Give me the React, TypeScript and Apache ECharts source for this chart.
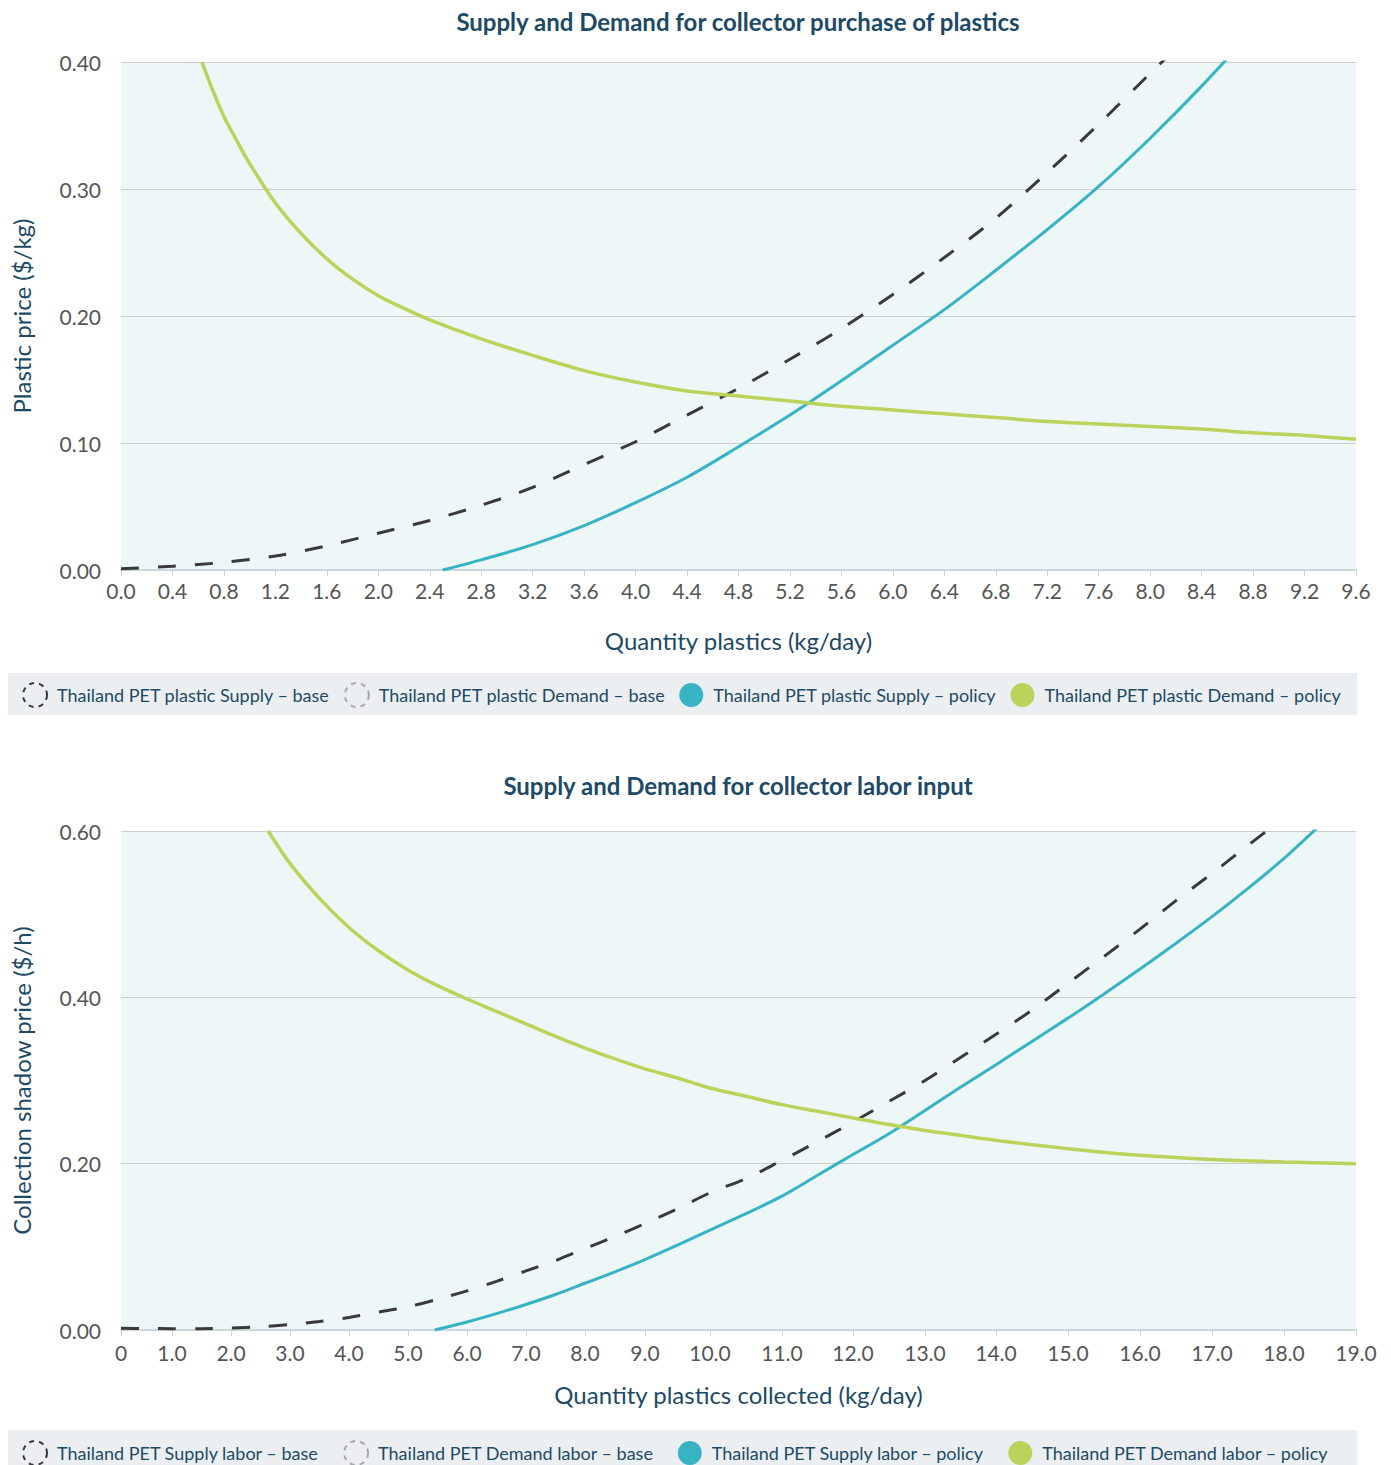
import React, { useEffect, useRef } from "react";
import * as echarts from "echarts";

// ---------- Chart 1: collector purchase of plastics ----------
const PLASTIC_SUPPLY_BASE: number[][] = [
  [0, 0.001], [0.4, 0.003], [0.8, 0.006], [1.2, 0.011], [1.6, 0.019], [2.0, 0.029],
  [2.4, 0.039], [2.8, 0.051], [3.2, 0.065], [3.6, 0.083], [4.0, 0.101], [4.4, 0.122],
  [4.8, 0.143], [5.2, 0.166], [5.6, 0.19], [6.0, 0.217], [6.4, 0.246], [6.8, 0.277],
  [7.2, 0.313], [7.6, 0.351], [8.0, 0.391], [8.4, 0.43],
];
const PLASTIC_DEMAND_BASE: number[][] = [];
const PLASTIC_SUPPLY_POLICY: number[][] = [
  [2.5, 0], [2.8, 0.008], [3.2, 0.02], [3.6, 0.035], [4.0, 0.053], [4.4, 0.073],
  [4.8, 0.097], [5.2, 0.122], [5.6, 0.149], [6.0, 0.177], [6.4, 0.205], [6.8, 0.236],
  [7.2, 0.268], [7.6, 0.302], [8.0, 0.34], [8.4, 0.381], [8.8, 0.425],
];
const PLASTIC_DEMAND_POLICY: number[][] = [
  [0.63, 0.4], [0.7, 0.381], [0.8, 0.357], [0.9, 0.338], [1.0, 0.32], [1.2, 0.289],
  [1.4, 0.265], [1.6, 0.245], [1.8, 0.229], [2.0, 0.216], [2.2, 0.206], [2.4, 0.197],
  [2.8, 0.182], [3.2, 0.169], [3.6, 0.157], [4.0, 0.148], [4.4, 0.141], [4.8, 0.137],
  [5.2, 0.133], [5.6, 0.129], [6.0, 0.126], [6.4, 0.123], [6.8, 0.12], [7.2, 0.117],
  [7.6, 0.115], [8.0, 0.113], [8.4, 0.111], [8.8, 0.108], [9.2, 0.106], [9.6, 0.103],
];

// ---------- Chart 2: collector labor input ----------
const LABOR_SUPPLY_BASE: number[][] = [
  [0, 0.002], [0.5, 0.0018], [1.0, 0.0016], [1.5, 0.0016], [2.0, 0.0024], [2.5, 0.0039],
  [3.0, 0.0065], [3.5, 0.0103], [4.0, 0.015], [4.5, 0.0215], [5.0, 0.028], [5.5, 0.037],
  [6.0, 0.047], [6.5, 0.0585], [7.0, 0.071], [7.5, 0.0835], [8.0, 0.098], [8.5, 0.1124],
  [9.0, 0.128], [9.5, 0.1457], [10.0, 0.165], [10.5, 0.182], [11.0, 0.204], [11.5, 0.2265],
  [12.0, 0.25], [12.5, 0.2748], [13.0, 0.3], [13.5, 0.3277], [14.0, 0.3556], [14.5, 0.3846],
  [15.0, 0.417], [15.5, 0.449], [16.0, 0.482], [16.5, 0.5163], [17.0, 0.549], [17.5, 0.5827],
  [18.0, 0.616],
];
const LABOR_DEMAND_BASE: number[][] = [];
const LABOR_SUPPLY_POLICY: number[][] = [
  [5.45, 0], [6.0, 0.0097], [6.5, 0.0197], [7.0, 0.0307], [7.5, 0.0427], [8.0, 0.0562],
  [8.5, 0.07], [9.0, 0.0846], [9.5, 0.102], [10.0, 0.12], [10.5, 0.14], [11.0, 0.161],
  [11.5, 0.186], [12.0, 0.211], [12.5, 0.236], [13.0, 0.264], [13.5, 0.292], [14.0, 0.319],
  [14.5, 0.347], [15.0, 0.375], [15.5, 0.404], [16.0, 0.434], [16.5, 0.465], [17.0, 0.497],
  [17.5, 0.531], [18.0, 0.567], [18.5, 0.607],
];
const LABOR_DEMAND_POLICY: number[][] = [
  [2.63, 0.6], [3.0, 0.561], [3.5, 0.519], [4.0, 0.484], [4.5, 0.456], [5.0, 0.433],
  [5.5, 0.414], [6.0, 0.398], [6.5, 0.383], [7.0, 0.368], [7.5, 0.353], [8.0, 0.339],
  [8.5, 0.326], [9.0, 0.314], [9.5, 0.303], [10.0, 0.291], [10.5, 0.281], [11.0, 0.271],
  [11.5, 0.263], [12.0, 0.255], [12.5, 0.247], [13.0, 0.24], [13.5, 0.234], [14.0, 0.228],
  [15.0, 0.218], [16.0, 0.21], [17.0, 0.205], [18.0, 0.202], [19.0, 0.2],
];

// Tick labels of the (unevenly spaced, category-like) labor x axis
const LABOR_X_TICK_VALUES = [0, 1, 2, 3, 4, 5, 6, 7, 8, 9, 10, 11, 12, 13, 14, 15, 16, 17, 18, 19];
const LABOR_X_TICK_LABELS = [
  "0", "1.0", "2.0", "3.0", "4.0", "5.0", "6.0", "7.0", "8.0", "9.0",
  "10.0", "11.0", "12.0", "13.0", "14.0", "15.0", "16.0", "17.0", "18.0", "19.0",
];

// Axis scale definition: relative position of each labor tick along the axis
const LABOR_X_SCALE = [
  0, 0.0413, 0.0891, 0.1368, 0.1846, 0.2324, 0.2802, 0.3279, 0.3757, 0.4243,
  0.4769, 0.5352, 0.5927, 0.651, 0.7085, 0.7668, 0.8251, 0.8834, 0.9417, 1,
];

function laborX(q: number): number {
  const v = LABOR_X_TICK_VALUES;
  const s = LABOR_X_SCALE;
  let i = 0;
  while (i < v.length - 2 && q > v[i + 1]) i++;
  const t = (q - v[i]) / (v[i + 1] - v[i]);
  return s[i] + t * (s[i + 1] - s[i]);
}

const NAMES1 = [
  "Thailand PET plastic Supply – base",
  "Thailand PET plastic Demand – base",
  "Thailand PET plastic Supply – policy",
  "Thailand PET plastic Demand – policy",
];
const NAMES2 = [
  "Thailand PET Supply labor – base",
  "Thailand PET Demand labor – base",
  "Thailand PET Supply labor – policy",
  "Thailand PET Demand labor – policy",
];

const FONT = "Lato, 'Open Sans', sans-serif";
const DARK = "#3a3a3a";
const GRAYBASE = "#a8a8a8";
const TEAL = "#37b3c4";
const GREEN = "#bbd35a";
const NAVY = "#1d4a66";
const LABEL = "#555555";
const PLOT_BG = "#eef7f8";
const GRIDLINE = "#cccccc";
const AXISLINE = "#ccd6db";

function legendItems(names: string[]) {
  return [
    { name: names[0], icon: "circle", itemStyle: { color: "transparent", borderColor: DARK, borderWidth: 2, borderType: [5, 5] } },
    { name: names[1], icon: "circle", itemStyle: { color: "transparent", borderColor: GRAYBASE, borderWidth: 2, borderType: [5, 5] } },
    { name: names[2], icon: "circle", itemStyle: { color: TEAL, borderWidth: 0 } },
    { name: names[3], icon: "circle", itemStyle: { color: GREEN, borderWidth: 0 } },
  ];
}

function lineSeries(name: string, idx: number, data: number[][], color: string, width: number, dashed: boolean) {
  return {
    name,
    type: "line",
    xAxisIndex: idx,
    yAxisIndex: idx,
    data,
    showSymbol: false,
    symbol: "none",
    smooth: 0.3,
    clip: true,
    color,
    lineStyle: { color, width, type: dashed ? [18, 19] : "solid" },
    itemStyle: { color },
    emphasis: { disabled: true },
  };
}

export default function App() {
  const ref = useRef<HTMLDivElement>(null);
  useEffect(() => {
    document.body.style.margin = "0";
    document.body.style.overflow = "hidden";
    if (!ref.current) return;
    const chart = echarts.init(ref.current, null, { renderer: "svg" });
    const axisLabel = { color: LABEL, fontSize: 21, fontFamily: FONT };
    const nameStyle = { color: NAVY, fontSize: 24, fontFamily: FONT };
    chart.setOption({
      animation: false,
      textStyle: { fontFamily: FONT },
      title: [
        {
          text: "Supply and Demand for collector purchase of plastics",
          left: 733, top: 4, textAlign: "center",
          textStyle: { color: NAVY, fontSize: 24, fontWeight: "bold", fontFamily: FONT },
        },
        {
          text: "Supply and Demand for collector labor input",
          left: 733, top: 768, textAlign: "center",
          textStyle: { color: NAVY, fontSize: 24, fontWeight: "bold", fontFamily: FONT },
        },
      ],
      graphic: [
        { type: "rect", shape: { x: 8, y: 673, width: 1349, height: 42 }, style: { fill: "#ebeff2" }, z: 0 },
        { type: "rect", shape: { x: 8, y: 1430, width: 1349, height: 42 }, style: { fill: "#ebeff2" }, z: 0 },
      ],
      legend: [
        {
          data: legendItems(NAMES1), left: 22, top: 682, padding: 0, itemGap: 14,
          itemWidth: 24, itemHeight: 24, selectedMode: false,
          textStyle: { color: NAVY, fontSize: 18, fontFamily: FONT, padding: [0, 0, 0, 5] },
        },
        {
          data: legendItems(NAMES2), left: 22, top: 1440, padding: 0, itemGap: 24,
          itemWidth: 24, itemHeight: 24, selectedMode: false,
          textStyle: { color: NAVY, fontSize: 18, fontFamily: FONT, padding: [0, 0, 0, 5] },
        },
      ],
      grid: [
        { left: 121, top: 62, width: 1235, height: 508, show: true, backgroundColor: PLOT_BG, borderWidth: 0, containLabel: false },
        { left: 121, top: 831, width: 1235, height: 499, show: true, backgroundColor: PLOT_BG, borderWidth: 0, containLabel: false },
      ],
      xAxis: [
        {
          type: "value", gridIndex: 0, min: 0, max: 9.6, interval: 0.4,
          name: "Quantity plastics (kg/day)", nameLocation: "middle", nameGap: 58, nameTextStyle: nameStyle,
          axisLine: { show: true, onZero: false, lineStyle: { color: AXISLINE, width: 2 } },
          axisTick: { show: true, length: 6, lineStyle: { color: AXISLINE, width: 1 } },
          axisLabel: { ...axisLabel, margin: 10, showMinLabel: true, showMaxLabel: true, formatter: (v: number) => v.toFixed(1) },
          splitLine: { show: false },
        },
        {
          type: "value", gridIndex: 1, min: 0, max: 1,
          name: "Quantity plastics collected (kg/day)", nameLocation: "middle", nameGap: 52, nameTextStyle: nameStyle,
          axisLine: { show: true, onZero: false, lineStyle: { color: AXISLINE, width: 2 } },
          axisTick: { show: true, length: 6, customValues: LABOR_X_SCALE, lineStyle: { color: AXISLINE, width: 1 } },
          axisLabel: {
            ...axisLabel, margin: 12, customValues: LABOR_X_SCALE, hideOverlap: false,
            formatter: (v: number) => {
              const i = LABOR_X_SCALE.findIndex((p) => Math.abs(p - v) < 1e-6);
              return i >= 0 ? LABOR_X_TICK_LABELS[i] : "";
            },
          },
          splitLine: { show: false },
        },
      ],
      yAxis: [
        {
          type: "value", gridIndex: 0, min: 0, max: 0.4, interval: 0.1,
          name: "Plastic price ($/kg)", nameLocation: "middle", nameGap: 88, nameTextStyle: nameStyle,
          axisLine: { show: false }, axisTick: { show: false },
          axisLabel: { ...axisLabel, margin: 20, formatter: (v: number) => v.toFixed(2) },
          splitLine: { show: true, lineStyle: { color: GRIDLINE, width: 1 } },
        },
        {
          type: "value", gridIndex: 1, min: 0, max: 0.6, interval: 0.2,
          name: "Collection shadow price ($/h)", nameLocation: "middle", nameGap: 88, nameTextStyle: nameStyle,
          axisLine: { show: false }, axisTick: { show: false },
          axisLabel: { ...axisLabel, margin: 20, formatter: (v: number) => v.toFixed(2) },
          splitLine: { show: true, lineStyle: { color: GRIDLINE, width: 1 } },
        },
      ],
      series: [
        lineSeries(NAMES1[0], 0, PLASTIC_SUPPLY_BASE, DARK, 3, true),
        lineSeries(NAMES1[1], 0, PLASTIC_DEMAND_BASE, GRAYBASE, 3, true),
        lineSeries(NAMES1[2], 0, PLASTIC_SUPPLY_POLICY, TEAL, 3, false),
        lineSeries(NAMES1[3], 0, PLASTIC_DEMAND_POLICY, GREEN, 3.5, false),
        lineSeries(NAMES2[0], 1, LABOR_SUPPLY_BASE.map(([q, p]) => [laborX(q), p]), DARK, 3, true),
        lineSeries(NAMES2[1], 1, LABOR_DEMAND_BASE.map(([q, p]) => [laborX(q), p]), GRAYBASE, 3, true),
        lineSeries(NAMES2[2], 1, LABOR_SUPPLY_POLICY.map(([q, p]) => [laborX(q), p]), TEAL, 3, false),
        lineSeries(NAMES2[3], 1, LABOR_DEMAND_POLICY.map(([q, p]) => [laborX(q), p]), GREEN, 3.5, false),
      ],
    });
    return () => chart.dispose();
  }, []);
  return <div ref={ref} style={{ width: 1391, height: 1465 }} />;
}
